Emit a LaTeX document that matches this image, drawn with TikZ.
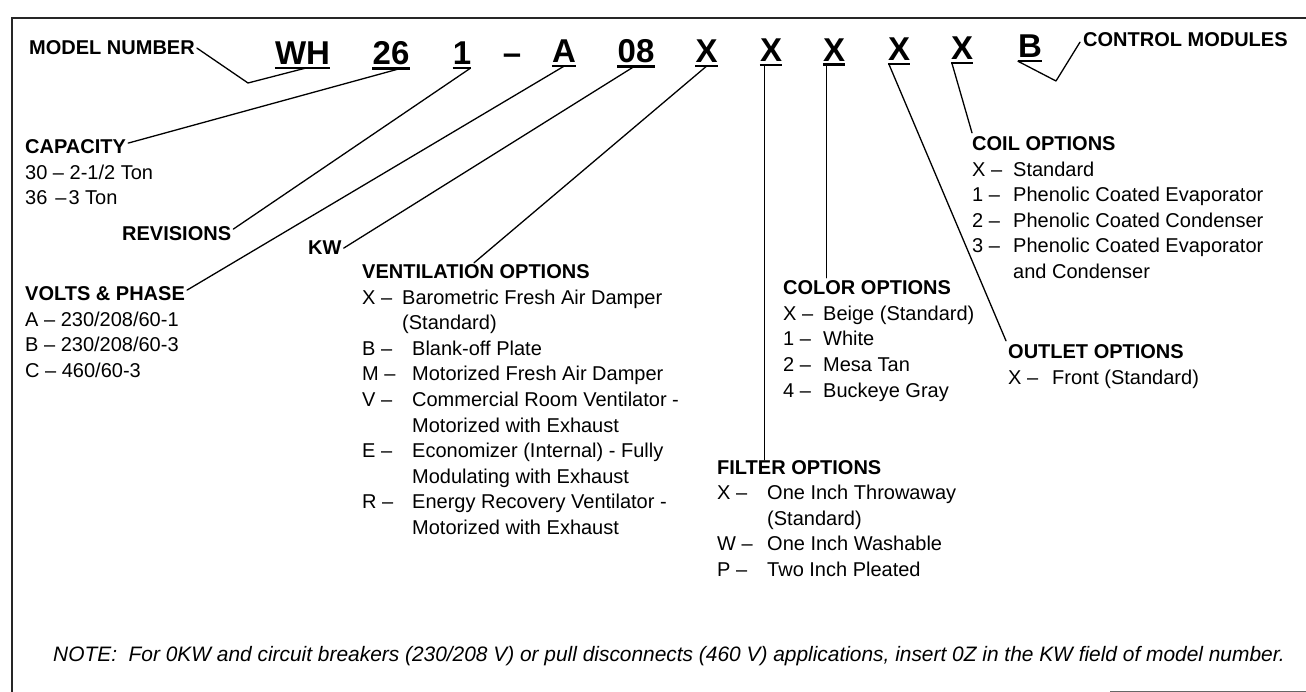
\documentclass[tikz,border=0pt]{standalone}
\usepackage{fontspec}
\setmainfont{Liberation Sans}
\usetikzlibrary{calc}
\tikzset{
  hdr/.style={anchor=base west, inner sep=0pt, font=\fontsize{20}{24}\selectfont\bfseries},
  body/.style={anchor=base west, inner sep=0pt, font=\fontsize{20}{24}\selectfont},
  notetxt/.style={anchor=base west, inner sep=0pt, font=\fontsize{20.9}{24}\selectfont\itshape},
  code/.style={anchor=base, inner sep=0pt, font=\fontsize{33}{36}\selectfont\bfseries},
  lead/.style={line width=1.3pt, line cap=round, line join=round},
  uline/.style={line width=2.4pt},
  frame/.style={line width=1.5pt, black!85},
}
\newcommand\opt[3]{\makebox[#1pt][l]{#2 –}#3}
\begin{document}
\begin{tikzpicture}[x=1pt,y=-1pt]
\useasboundingbox (0,0) rectangle (1306,692);
% frame
\draw[frame] (12,692) -- (12,18) -- (1306,18);
\draw[black!60, line width=0.8pt] (1110,691) -- (1306,691);

% model number code
\node[code] (wh)  at (302.5,65) {WH};
\node[code] (c26) at (391,65) {26};
\node[code] (c1)  at (462,65) {1};
\node[code] (dash) at (512,65) {–};
\node[code] (cA)  at (564,63) {A};
\node[code] (c08) at (636,63) {08};
\node[code] (x1)  at (706.5,63) {X};
\node[code] (x2)  at (771,62) {X};
\node[code] (x3)  at (834,61.5) {X};
\node[code] (x4)  at (899,61) {X};
\node[code] (x5)  at (962,60) {X};
\node[code] (cB)  at (1030,58) {B};
\foreach \n in {wh,c26,c1,cA,c08,x1,x2,x3,x4,x5,cB}{
  \draw[uline] ([yshift=-3pt]\n.south west) -- ([yshift=-3pt]\n.south east);
  \coordinate (\n L) at ([yshift=-3pt]\n.south west);
  \coordinate (\n R) at ([yshift=-3pt]\n.south east);
}
\coordinate (uwh) at ($(whL)!0.55!(whR)$);
\coordinate (u26) at ($(c26L)!0.75!(c26R)$);
\coordinate (u1)  at ($(c1L)!0.95!(c1R)$);
\coordinate (uA)  at ($(cAL)!0.5!(cAR)$);
\coordinate (u08) at ($(c08L)!0.45!(c08R)$);
\coordinate (ux1) at ($(x1L)!0.5!(x1R)$);
\coordinate (ux2) at ($(x2L)!0.2!(x2R)$);
\coordinate (ux3) at ($(x3L)!0.15!(x3R)$);
\coordinate (ux4) at ($(x4L)!0.05!(x4R)$);
\coordinate (ux5) at ($(x5L)!0.05!(x5R)$);
\coordinate (uB)  at (cBL);

% headers
\node[hdr] (mn)   at (29,55)   {MODEL NUMBER};
\node[hdr] (ctl)  at (1083,47) {CONTROL MODULES};
\node[hdr] (cap)  at (25,154)  {CAPACITY};
\node[hdr] (rev)  at (122,241) {REVISIONS};
\node[hdr] (kw)   at (308,255) {KW};
\node[hdr] (vlt)  at (25,301)  {VOLTS \& PHASE};
\node[hdr] (vent) at (362,279) {VENTILATION OPTIONS};
\node[hdr] (col)  at (783,295) {COLOR OPTIONS};
\node[hdr] (fil)  at (717,474) {FILTER OPTIONS};
\node[hdr] (coil) at (972,151) {COIL OPTIONS};
\node[hdr] (out)  at (1008,359){OUTLET OPTIONS};

% capacity
\node[body] (cap1) at (25,179.5) {30 – 2-1/2 Ton};
\node[body] (cap2) at (25,205)   {36\hspace{8pt}–\hspace{2pt}3 Ton};
% volts
\node[body] (vlt1) at (25,326.5) {A – 230/208/60-1};
\node[body] (vlt2) at (25,352)   {B – 230/208/60-3};
\node[body] (vlt3) at (25,377.5) {C – 460/60-3};
% ventilation
\node[body] (v1)  at (362,304.5) {\opt{40}{X}{Barometric Fresh Air Damper}};
\node[body] (v2)  at (402,330)   {(Standard)};
\node[body] (v3)  at (362,355.5) {\opt{50}{B}{Blank-off Plate}};
\node[body] (v4)  at (362,381)   {\opt{50}{M}{Motorized Fresh Air Damper}};
\node[body] (v5)  at (362,406.5) {\opt{50}{V}{Commercial Room Ventilator -}};
\node[body] (v6)  at (412,432)   {Motorized with Exhaust};
\node[body] (v7)  at (362,457.5) {\opt{50}{E}{Economizer (Internal) - Fully}};
\node[body] (v8)  at (412,483)   {Modulating with Exhaust};
\node[body] (v9)  at (362,508.5) {\opt{50}{R}{Energy Recovery Ventilator -}};
\node[body] (v10) at (412,534)   {Motorized with Exhaust};
% color
\node[body] (col1) at (783,320.5) {\opt{40}{X}{Beige (Standard)}};
\node[body] (col2) at (783,346)   {\opt{40}{1}{White}};
\node[body] (col3) at (783,371.5) {\opt{40}{2}{Mesa Tan}};
\node[body] (col4) at (783,397)   {\opt{40}{4}{Buckeye Gray}};
% filter
\node[body] (fil1) at (717,499.5) {\opt{50}{X}{One Inch Throwaway}};
\node[body] (fil2) at (767,525)   {(Standard)};
\node[body] (fil3) at (717,550.5) {\opt{50}{W}{One Inch Washable}};
\node[body] (fil4) at (717,576)   {\opt{50}{P}{Two Inch Pleated}};
% coil
\node[body] (coil1) at (972,176.5) {\opt{41}{X}{Standard}};
\node[body] (coil2) at (972,202)   {\opt{41}{1}{Phenolic Coated Evaporator}};
\node[body] (coil3) at (972,227.5) {\opt{41}{2}{Phenolic Coated Condenser}};
\node[body] (coil4) at (972,253)   {\opt{41}{3}{Phenolic Coated Evaporator}};
\node[body] (coil5) at (1013,278.5){and Condenser};
% outlet
\node[body] (out1) at (1008,384.5) {\opt{44}{X}{Front (Standard)}};

% note
\node[notetxt] (note) at (53,661) {NOTE:\ \ For 0KW and circuit breakers (230/208 V) or pull disconnects (460 V) applications, insert 0Z in the KW field of model number.};

% leaders
\coordinate (mnv) at (248,83);
\draw[lead] ([xshift=2pt]mn.east) -- (mnv) -- (uwh);
\coordinate (ctlv) at (1056,81);
\draw[lead] (uB) -- (ctlv) -- ([xshift=-3pt,yshift=-2pt]ctl.west);
\draw[lead] ([xshift=2pt,yshift=4pt]cap.east) -- (u26);
\draw[lead] ([xshift=2pt,yshift=5pt]rev.east) -- (u1);
\draw[lead] ([xshift=2pt,yshift=4pt]vlt.east) -- (uA);
\draw[lead] ([xshift=2pt]kw.east) -- (u08);
\coordinate (ventO) at ([xshift=112pt,yshift=2pt]vent.north west);
\draw[lead] (ventO) -- (ux1);
\draw[lead] (ux2) -- (ux2 |- fil.north);
\draw[lead] (ux3) -- ([yshift=3pt]ux3 |- col.north);
\draw[lead] (ux4) -- ([xshift=-2pt,yshift=4pt]out.north west);
\draw[lead] (ux5) -- ([yshift=4pt]coil.north west);
\end{tikzpicture}
\end{document}
